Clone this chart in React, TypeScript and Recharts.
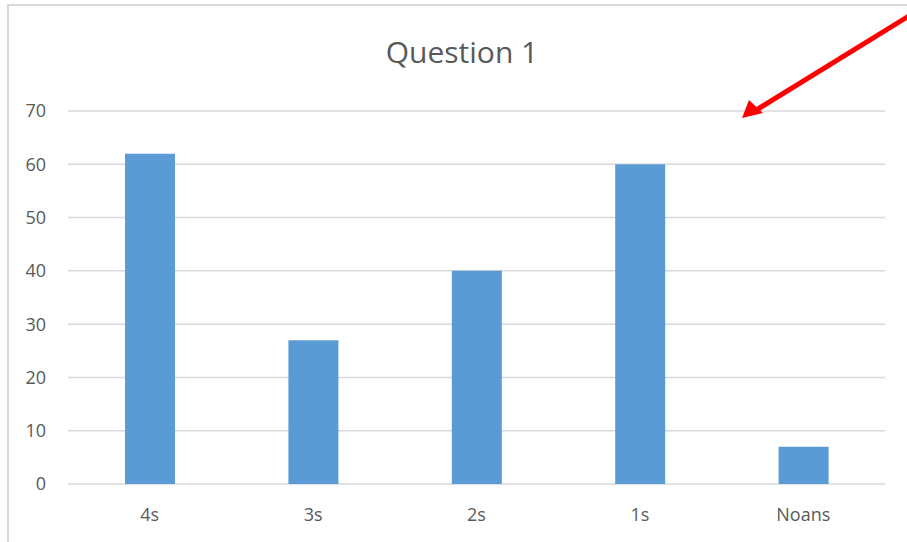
import { BarChart, Bar, XAxis, YAxis, CartesianGrid } from "recharts";

const categories = ["4s", "3s", "2s", "1s", "Noans"];
const answers = [62, 27, 40, 60, 7];
const yTicks = [0, 10, 20, 30, 40, 50, 60, 70];

const data = categories.map((name, i) => ({ name, value: answers[i] }));

const font = "'Open Sans', 'Noto Sans', sans-serif";

const App = () => {
  return (
    <div style={{ position: "fixed", left: 0, top: 0, width: 907, height: 542, background: "#fff", overflow: "hidden" }}>
      {/* frame of the screenshot */}
      <div style={{ position: "absolute", left: 7, top: 4, right: -2, bottom: -2, borderTop: "2px solid #d9d9d9", borderLeft: "2px solid #d9d9d9" }} />
      <div
        style={{
          position: "absolute",
          left: 0,
          top: 31,
          width: 924,
          textAlign: "center",
          fontFamily: font,
          fontSize: 30,
          color: "#595959",
        }}
      >
        Question 1
      </div>
      <div style={{ position: "absolute", left: 0, top: 0 }}>
        <BarChart width={907} height={542} data={data} margin={{ top: 111, right: 22, bottom: 28, left: 0 }}>
          <CartesianGrid vertical={false} stroke="#d9d9d9" strokeWidth={1.5} />
          <XAxis
            dataKey="name"
            axisLine={false}
            tickLine={false}
            tickSize={0}
            tickMargin={24}
            tick={{ fill: "#595959", fontSize: 18, fontFamily: font }}
          />
          <YAxis
            width={68}
            domain={[0, 70]}
            ticks={yTicks}
            axisLine={false}
            tickLine={false}
            tickSize={0}
            tickMargin={22}
            tick={{ fill: "#595959", fontSize: 18, fontFamily: font }}
          />
          <Bar dataKey="value" fill="#5b9bd5" barSize={50} isAnimationActive={false} />
        </BarChart>
      </div>
      {/* red annotation arrow */}
      <svg width={907} height={542} style={{ position: "absolute", left: 0, top: 0, pointerEvents: "none" }}>
        <line x1={912} y1={14} x2={758} y2={109} stroke="#ff0000" strokeWidth={5} />
        <polygon points="742,118 749,100 763,113" fill="#ff0000" />
      </svg>
    </div>
  );
};

export default App;
